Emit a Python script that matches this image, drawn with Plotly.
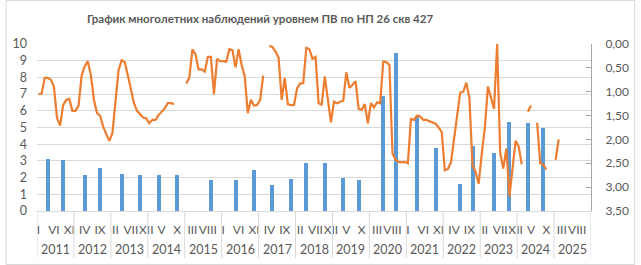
import plotly.graph_objects as go

# ---------------- data ----------------
years = list(range(2011, 2026))
roman = ["I", "II", "III", "IV", "V", "VI", "VII", "VIII", "IX", "X", "XI", "XII"]

# depth to groundwater (m), monthly Jan..Dec, None = no observation
lvl_2011 = [1.05, 1.04, 0.71, 0.71, 0.75, 0.89, 1.55, 1.71, 1.28, 1.17, 1.15, 1.40]
lvl_2012 = [1.40, 1.29, 0.66, 0.47, 0.36, 0.65, 1.17, 1.45, 1.50, 1.73, 1.89, 2.03]
lvl_2013 = [1.87, 1.17, 0.55, 0.34, 0.38, 0.65, 0.96, 1.24, 1.40, 1.48, 1.54, 1.56]
lvl_2014 = [1.66, 1.59, 1.59, 1.49, 1.43, 1.35, 1.24, 1.24, 1.26, None, None, None]
lvl_2015 = [0.83, 0.71, 0.11, 0.22, 0.53, 0.53, 0.58, 0.27, 0.27, 1.05, 0.31, 0.36]
lvl_2016 = [0.36, 0.37, 0.11, 0.13, 0.49, 0.11, 0.44, 0.68, 1.45, 1.17, 1.29, 1.28]
lvl_2017 = [1.17, 0.66, None, 0.04, 0.06, 0.16, 0.29, 1.17, 0.71, 1.26, 1.28, 1.28]
lvl_2018 = [0.93, 0.83, 0.82, 0.08, 0.11, 0.31, 0.27, 1.24, 1.27, 0.68, 1.21, 1.64]
lvl_2019 = [1.21, 1.24, 1.21, 1.19, 0.59, 0.92, 0.86, 0.78, 1.36, 1.38, 1.26, 1.66]
lvl_2020 = [1.24, 1.33, 1.22, 1.24, 0.37, 0.38, 0.44, 2.29, 2.43, 2.47, 2.48, 2.47]
lvl_2021 = [2.50, 1.57, 1.59, 1.50, 1.52, 1.59, 1.59, 1.62, 1.65, 1.67, 1.75, 1.84]
lvl_2022 = [2.65, 2.62, 2.48, 1.95, 1.49, 1.02, 1.00, 0.81, 1.14, 2.54, 2.68, 2.93]
lvl_2023 = [2.30, 1.77, 0.89, 1.10, 1.36, 0.00, 2.29, 2.61, 2.19, 3.20, 2.64, 2.03]
lvl_2024 = [2.15, 2.52, None, 1.42, 1.29, None, 1.65, 2.50, 2.53, 2.63, None, None]
lvl_2025 = [2.43, 2.00, None, None, None, None, None, None, None, None, None, None]

# bar series (left axis)
bar_dates = ["2011-04", "2011-09", "2012-04", "2012-09", "2013-04", "2013-10",
             "2014-04", "2014-10", "2015-09", "2016-05", "2016-11", "2017-05",
             "2017-11", "2018-04", "2018-10", "2019-04", "2019-09", "2020-05",
             "2020-09", "2021-04", "2021-10", "2022-06", "2022-10", "2023-05",
             "2023-10", "2024-04", "2024-09"]
bar_values = [3.1, 3.05, 2.15, 2.6, 2.2, 2.15, 2.15, 2.15, 1.85, 1.85, 2.45, 1.55,
              1.9, 2.9, 2.9, 2.0, 1.85, 6.9, 9.45, 5.7, 3.8, 1.6, 3.9, 3.5,
              5.3, 5.25, 4.95]

# ---------------- derived ----------------
levels = [lvl_2011, lvl_2012, lvl_2013, lvl_2014, lvl_2015, lvl_2016, lvl_2017,
          lvl_2018, lvl_2019, lvl_2020, lvl_2021, lvl_2022, lvl_2023, lvl_2024, lvl_2025]
line_x, line_y = [], []
for yi, yr_vals in enumerate(levels):
    for m, v in enumerate(yr_vals):
        line_x.append(yi * 12 + m)
        line_y.append(v)

def month_index(s):
    y, m = s.split("-")
    return (int(y) - years[0]) * 12 + int(m) - 1

bar_x = [month_index(d) for d in bar_dates]
n_months = len(years) * 12

tick_vals = list(range(0, n_months, 5))
tick_text = [roman[i % 12] for i in tick_vals]

# ---------------- layout constants ----------------
W, H = 641, 265
ML, MR, MT, MB = 32, 45, 44, 54
PW, PH = W - ML - MR, H - MT - MB
TXT = "#595959"
GRID = "#D9D9D9"
FONT = "Lato, Roboto, sans-serif"

fig = go.Figure()
fig.add_trace(go.Bar(x=bar_x, y=bar_values, width=1.3, marker_color="#5B9BD5",
                     marker_line_width=0, yaxis="y", name="bars"))
fig.add_trace(go.Scatter(x=line_x, y=line_y, mode="lines", yaxis="y2",
                         line=dict(color="#ED7D31", width=2.2), connectgaps=False,
                         name="level"))

shapes = []
for k in range(len(years) + 1):
    xv = k * 12 - 0.5
    shapes.append(dict(type="line", xref="x", yref="paper", x0=xv, x1=xv,
                       y0=0, y1=-47 / PH, line=dict(color=GRID, width=1)))
# outer chart border
shapes.append(dict(type="rect", xref="paper", yref="paper",
                   x0=(0.5 - ML) / PW, x1=(W - 0.5 - ML) / PW,
                   y0=-(MB - 0.5) / PH, y1=(PH + MT - 0.5) / PH,
                   line=dict(color=GRID, width=1), fillcolor="rgba(0,0,0,0)"))

annotations = []
for yi, yr in enumerate(years):
    annotations.append(dict(x=yi * 12 + 5.5, xref="x", y=-38 / PH, yref="paper",
                            text=str(yr), showarrow=False, yanchor="middle",
                            font=dict(size=12.5, color=TXT, family=FONT)))

fig.update_layout(
    width=W, height=H,
    margin=dict(l=ML, r=MR, t=MT, b=MB),
    paper_bgcolor="white", plot_bgcolor="white",
    separators=", ",
    showlegend=False,
    bargap=0,
    font=dict(family=FONT, color=TXT, size=12),
    title=dict(text="<b>График многолетних наблюдений уровнем ПВ по НП 26 скв 427</b>",
               x=260 / W, xanchor="center", xref="container",
               y=1 - 19 / H, yanchor="middle", yref="container",
               font=dict(size=11.5, color=TXT, family=FONT)),
    xaxis=dict(range=[-0.5, n_months - 0.5], tickvals=tick_vals, ticktext=tick_text,
               showgrid=False, zeroline=False, showline=True, linecolor=GRID,
               ticks="", ticklabelstandoff=8, tickangle=0,
               tickfont=dict(size=12, color=TXT, family=FONT)),
    yaxis=dict(range=[0, 10], dtick=1, showgrid=True, gridcolor=GRID, gridwidth=1,
               zeroline=False, showline=False, ticks="", ticklabelstandoff=9,
               tickfont=dict(size=12.5, color=TXT, family=FONT)),
    yaxis2=dict(range=[3.5, 0], dtick=0.5, tick0=0, tickformat=".2f",
                overlaying="y", side="right", showgrid=False, zeroline=False,
                showline=True, linecolor="#A6A6A6", ticks="inside", ticklen=5,
                tickcolor="#A6A6A6", ticklabelstandoff=11,
                tickfont=dict(size=12, color=TXT, family=FONT)),
    shapes=shapes,
    annotations=annotations,
)

fig.write_html("out.html")
